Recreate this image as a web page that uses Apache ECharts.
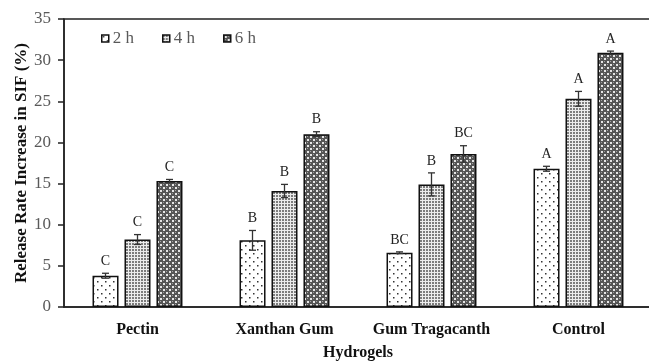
<!DOCTYPE html>
<html><head><meta charset="utf-8">
<script src="https://cdn.jsdelivr.net/npm/echarts@6/dist/echarts.min.js"></script>
<style>html,body{margin:0;padding:0;background:#fff}#c{width:649px;height:361px}</style>
</head><body><div id="c"></div>
<script>
var categories = ['Pectin', 'Xanthan Gum', 'Gum Tragacanth', 'Control'];
var seriesNames = ['2 h', '4 h', '6 h'];
var values2h = [3.8, 8.1, 6.6, 16.8];
var values4h = [8.2, 14.1, 14.9, 25.3];
var values6h = [15.3, 21.0, 18.6, 30.9];
var errors2h = [0.3, 1.2, 0.1, 0.3];
var errors4h = [0.6, 0.8, 1.4, 0.9];
var errors6h = [0.2, 0.3, 1.0, 0.2];
var letters2h = ['C', 'B', 'BC', 'A'];
var letters4h = ['C', 'B', 'B', 'A'];
var letters6h = ['C', 'B', 'BC', 'A'];
var yTicks = [0, 5, 10, 15, 20, 25, 30, 35];

function makePattern(kind) {
  var c = document.createElement('canvas');
  var ctx = c.getContext('2d');
  if (kind === 0) {
    c.width = 8; c.height = 8;
    ctx.fillStyle = '#ffffff'; ctx.fillRect(0, 0, 8, 8);
    ctx.fillStyle = '#333333';
    ctx.fillRect(1, 1, 1.5, 1.5); ctx.fillRect(5, 5, 1.5, 1.5);
  } else if (kind === 1) {
    c.width = 3; c.height = 3;
    ctx.fillStyle = '#ececec'; ctx.fillRect(0, 0, 3, 3);
    ctx.fillStyle = '#7c7c7c';
    ctx.fillRect(0, 0, 2, 2);
  } else {
    c.width = 6; c.height = 6;
    ctx.fillStyle = '#555555'; ctx.fillRect(0, 0, 6, 6);
    ctx.fillStyle = '#e6e6e6';
    ctx.fillRect(1, 1, 2, 2); ctx.fillRect(4, 4, 2, 2);
    ctx.fillStyle = '#a0a0a0';
    ctx.fillRect(4, 1, 1, 1); ctx.fillRect(1, 4, 1, 1);
  }
  return { image: c, repeat: 'repeat' };
}

var allValues = [values2h, values4h, values6h];
var allErrors = [errors2h, errors4h, errors6h];
var allLetters = [letters2h, letters4h, letters6h];
var serif = '"Liberation Serif", "Times New Roman", serif';
var barW = 26, step = 32;

var chart = echarts.init(document.getElementById('c'), null, { renderer: 'canvas' });
var series = [];
for (var s = 0; s < 3; s++) {
  series.push({
    name: seriesNames[s], type: 'bar', data: allValues[s], barWidth: barW, barGap: '23%',
    itemStyle: { color: makePattern(s), borderColor: '#111', borderWidth: 1.5 }
  });
}
for (var s2 = 0; s2 < 3; s2++) {
  (function (si) {
    var data = categories.map(function (c, i) { return [i, allValues[si][i], allErrors[si][i], allLetters[si][i]]; });
    series.push({
      type: 'custom', name: 'err' + si, data: data, z: 10, silent: true,
      renderItem: function (params, api) {
        var i = api.value(0), v = api.value(1), e = api.value(2);
        var top = api.coord([i, v + e]);
        var bot = api.coord([i, v - e]);
        var x = top[0] + (si - 1) * step;
        var h = 3.5;
        var col = '#333';
        return {
          type: 'group', children: [
            { type: 'line', shape: { x1: x, y1: top[1], x2: x, y2: bot[1] }, style: { stroke: col, lineWidth: 1.3 } },
            { type: 'line', shape: { x1: x - h, y1: top[1], x2: x + h, y2: top[1] }, style: { stroke: col, lineWidth: 1.3 } },
            { type: 'line', shape: { x1: x - h, y1: bot[1], x2: x + h, y2: bot[1] }, style: { stroke: col, lineWidth: 1.3 } },
            { type: 'text', x: x, y: top[1] - 5, style: { text: data[params.dataIndex][3], textAlign: 'center', textVerticalAlign: 'bottom', font: '14px ' + serif, fill: '#222' } }
          ]
        };
      }
    });
  })(s2);
}

chart.setOption({
  animation: false,
  grid: { left: 64, top: 19, width: 588, height: 288, outerBoundsMode: 'none', containLabel: false, show: true, borderColor: '#222', borderWidth: 1.5, backgroundColor: 'transparent' },
  legend: {
    data: seriesNames, left: 96, top: 25, itemWidth: 7, itemHeight: 7, itemGap: 28, icon: 'rect',
    textStyle: { fontFamily: serif, fontSize: 17, color: '#595959', padding: [0, 0, 0, -1] },
    itemStyle: { borderColor: '#111', borderWidth: 1.5 }
  },
  xAxis: {
    type: 'category', data: categories,
    axisLine: { lineStyle: { color: '#222', width: 1.5 } }, axisTick: { show: false },
    axisLabel: { interval: 0, fontFamily: serif, fontSize: 16, fontWeight: 'bold', color: '#111', margin: 15 },
    name: 'Hydrogels', nameLocation: 'middle', nameGap: 38, nameMoveOverlap: false,
    nameTextStyle: { fontFamily: serif, fontSize: 16, fontWeight: 'bold', color: '#111' }
  },
  yAxis: {
    type: 'value', min: 0, max: 35, interval: 5,
    axisLine: { show: true, lineStyle: { color: '#222', width: 1.5 } },
    axisTick: { show: true, length: 6, lineStyle: { color: '#222', width: 1.5 } },
    splitLine: { show: false },
    axisLabel: { fontFamily: serif, fontSize: 17, color: '#595959', margin: 13, formatter: function (v) { return yTicks.indexOf(v) >= 0 ? String(v) : ''; } },
    name: 'Release Rate Increase in SIF (%)', nameLocation: 'middle', nameGap: 34, nameMoveOverlap: false,
    nameTextStyle: { fontFamily: serif, fontSize: 17, fontWeight: 'bold', color: '#111' }
  },
  series: series
});
</script></body></html>
